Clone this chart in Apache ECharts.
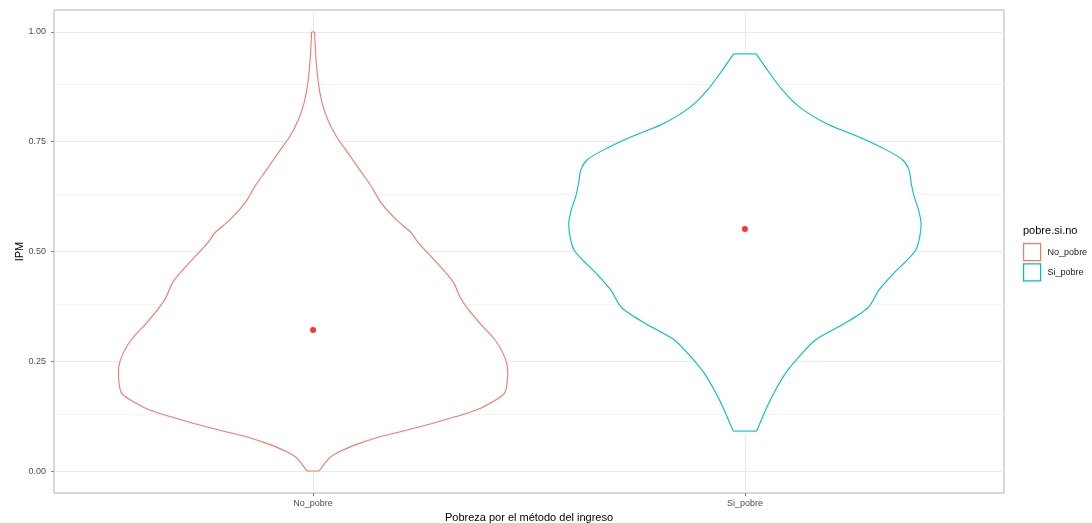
<!DOCTYPE html>
<html>
<head>
<meta charset="utf-8">
<script src="https://cdn.jsdelivr.net/npm/echarts@6/dist/echarts.min.js"></script>
<style>
html,body{margin:0;padding:0;background:#fff;}
#chart{width:1092px;height:523px;}
</style>
</head>
<body>
<div id="chart"></div>
<script>
// ---- data ----
const categories = ['No_pobre', 'Si_pobre'];
const legendTitle = 'pobre.si.no';
const xTitle = 'Pobreza por el método del ingreso';
const yTitle = 'IPM';
const yTicks = [0, 0.25, 0.5, 0.75, 1];
const yTickLabels = ['0.00', '0.25', '0.50', '0.75', '1.00'];
const yMinorTicks = [0.125, 0.375, 0.625, 0.875];

// violin outline: IPM value and half-width (in category units)
const noPobreY = [0.000, 0.017, 0.033, 0.048, 0.063, 0.078, 0.093, 0.109, 0.124, 0.139, 0.154, 0.177, 0.207, 0.238, 0.268, 0.299, 0.337, 0.374, 0.397, 0.428, 0.451, 0.488, 0.504, 0.526, 0.542, 0.572, 0.610, 0.648, 0.686, 0.724, 0.762, 0.800, 0.838, 0.876, 0.914, 0.952, 1.000];
const noPobreHalfWidth = [0.0139, 0.0267, 0.0417, 0.0695, 0.108, 0.154, 0.216, 0.278, 0.331, 0.378, 0.409, 0.443, 0.450, 0.450, 0.440, 0.421, 0.386, 0.355, 0.340, 0.326, 0.308, 0.274, 0.258, 0.239, 0.228, 0.193, 0.158, 0.135, 0.108, 0.081, 0.054, 0.034, 0.021, 0.0134, 0.0088, 0.0058, 0.0035];

const siPobreY = [0.091, 0.147, 0.185, 0.223, 0.260, 0.299, 0.329, 0.352, 0.374, 0.413, 0.451, 0.481, 0.504, 0.534, 0.564, 0.595, 0.625, 0.656, 0.686, 0.709, 0.732, 0.754, 0.770, 0.792, 0.830, 0.868, 0.906, 0.950];
const siPobreHalfWidth = [0.0271, 0.0517, 0.0712, 0.0943, 0.125, 0.164, 0.218, 0.257, 0.287, 0.311, 0.345, 0.376, 0.396, 0.405, 0.408, 0.402, 0.392, 0.385, 0.380, 0.365, 0.326, 0.280, 0.241, 0.187, 0.125, 0.0865, 0.0573, 0.0262];

const meanIPM = [0.321, 0.551];

// ---- styles ----
const colors = ['#F8766D', '#00BFC4'];
const violins = [
  { y: noPobreY, w: noPobreHalfWidth },
  { y: siPobreY, w: siPobreHalfWidth }
];
const FONT = 'Liberation Sans, Arial, sans-serif';

const chart = echarts.init(document.getElementById('chart'), null, { renderer: 'canvas' });

function violinSeries(i) {
  return {
    name: categories[i],
    type: 'custom',
    coordinateSystem: 'cartesian2d',
    z: 3,
    data: [[i + 1, meanIPM[i]]],
    itemStyle: { color: '#fff', borderColor: colors[i] },
    renderItem: function (params, api) {
      const v = violins[i];
      const cx = i + 1;
      const right = [], left = [];
      for (let k = 0; k < v.y.length; k++) {
        right.push(api.coord([cx + v.w[k], v.y[k]]));
        left.push(api.coord([cx - v.w[k], v.y[k]]));
      }
      const n = v.y.length - 1;
      const poly = right.concat(left.slice().reverse());
      const stroke = { stroke: colors[i], lineWidth: 1.1, fill: null };
      return {
        type: 'group',
        children: [
          { type: 'polygon', shape: { points: poly, smooth: 0.3 }, style: { fill: '#fff', stroke: null } },
          { type: 'polyline', shape: { points: right, smooth: 0.3 }, style: stroke },
          { type: 'polyline', shape: { points: left, smooth: 0.3 }, style: stroke },
          { type: 'line', shape: { x1: left[0][0], y1: left[0][1], x2: right[0][0], y2: right[0][1] }, style: stroke },
          { type: 'line', shape: { x1: left[n][0], y1: left[n][1], x2: right[n][0], y2: right[n][1] }, style: stroke }
        ]
      };
    }
  };
}

const option = {
  animation: false,
  backgroundColor: '#fff',
  textStyle: { fontFamily: FONT },
  title: {
    text: legendTitle,
    left: 1023, top: 225, padding: 0,
    textStyle: { fontFamily: FONT, fontSize: 11, fontWeight: 'normal', color: '#000' }
  },
  legend: {
    orient: 'vertical',
    left: 1023, top: 243, padding: 0,
    itemWidth: 17, itemHeight: 17, itemGap: 2,
    textStyle: { fontFamily: FONT, fontSize: 9, color: '#1a1a1a', padding: [0, 0, 0, 2] },
    data: categories.map((c, i) => ({
      name: c, icon: 'rect',
      itemStyle: { color: '#fff', borderColor: colors[i], borderWidth: 1.2 }
    }))
  },
  grid: {
    left: 54, right: 88, top: 10, bottom: 30,
    outerBoundsMode: 'none', containLabel: false,
    show: true, borderColor: '#b3b3b3', borderWidth: 1, backgroundColor: 'transparent'
  },
  xAxis: {
    type: 'value', min: 0.4, max: 2.6,
    name: xTitle, nameLocation: 'middle', nameGap: 19,
    nameTextStyle: { fontFamily: FONT, fontSize: 11, color: '#000' },
    axisLine: { show: false, onZero: false },
    axisTick: { show: true, length: 3, customValues: [1, 2], lineStyle: { color: '#7f7f7f' } },
    axisLabel: {
      customValues: [1, 2], margin: 6,
      fontFamily: FONT, fontSize: 9, color: '#4d4d4d',
      formatter: v => categories[Math.round(v) - 1] || ''
    },
    splitLine: { show: true, lineStyle: { color: '#ebebeb', width: 1 } }
  },
  yAxis: {
    type: 'value', min: -0.05, max: 1.05,
    name: yTitle, nameLocation: 'middle', nameGap: 29, nameRotate: 90, nameMoveOverlap: false,
    nameTextStyle: { fontFamily: FONT, fontSize: 11, color: '#000' },
    axisLine: { show: false, onZero: false },
    axisTick: { show: true, length: 3, customValues: yTicks, lineStyle: { color: '#7f7f7f' } },
    axisLabel: {
      customValues: yTicks, margin: 8,
      fontFamily: FONT, fontSize: 9, color: '#4d4d4d',
      formatter: v => { const k = yTicks.findIndex(t => Math.abs(t - v) < 1e-9); return k >= 0 ? yTickLabels[k] : ''; }
    },
    splitLine: { show: true, lineStyle: { color: '#ebebeb', width: 1 } }
  },
  series: [
    {
      name: '_minor', type: 'line', data: [], z: 1,
      markLine: {
        silent: true, symbol: 'none', z: 1, animation: false,
        label: { show: false },
        lineStyle: { color: '#f3f3f3', width: 1, type: 'solid' },
        data: yMinorTicks.map(t => ({ yAxis: t }))
      }
    },
    violinSeries(0),
    violinSeries(1),
    {
      name: 'mean', type: 'scatter', z: 5,
      symbol: 'circle', symbolSize: 6,
      itemStyle: { color: '#ff0000' },
      data: meanIPM.map((m, i) => [i + 1, m])
    }
  ]
};
chart.setOption(option);
</script>
</body>
</html>
